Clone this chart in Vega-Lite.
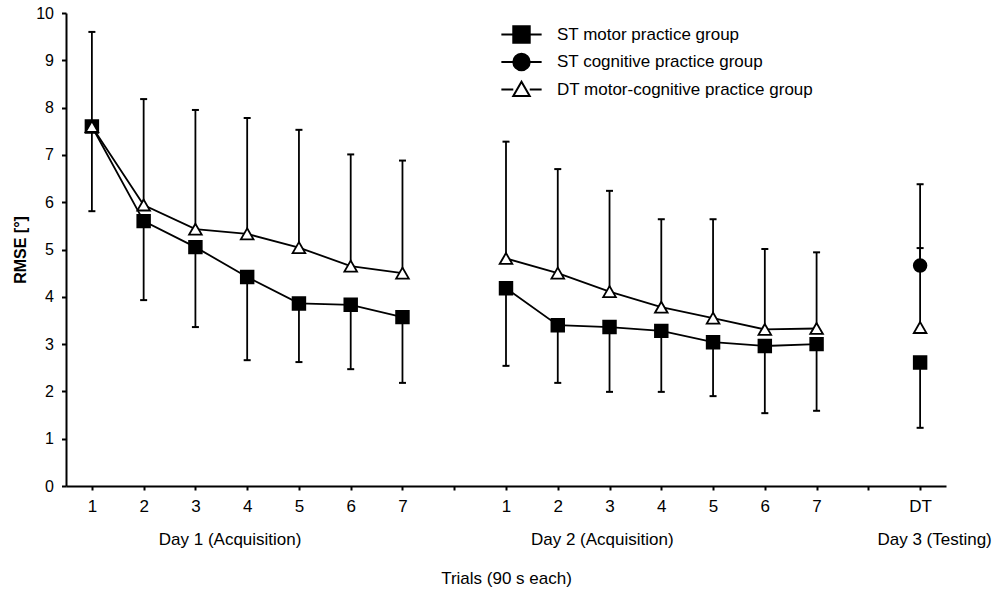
{
  "$schema": "https://vega.github.io/schema/vega-lite/v6.json",
  "width": 880,
  "height": 473,
  "autosize": {"type": "none"},
  "padding": {"left": 66, "top": 13, "right": 54, "bottom": 113},
  "config": {
    "view": {"stroke": null},
    "font": "Liberation Sans",
    "axis": {
      "grid": false,
      "domainColor": "black",
      "domainWidth": 2,
      "tickColor": "black",
      "tickWidth": 2,
      "labelColor": "black",
      "titleColor": "black",
      "labelFont": "Liberation Sans",
      "titleFont": "Liberation Sans"
    },
    "legend": {
      "orient": "none",
      "legendX": 446,
      "legendY": 12,
      "padding": 0,
      "symbolSize": 270,
      "symbolStrokeWidth": 2,
      "symbolOpacity": 1,
      "labelFont": "Liberation Sans",
      "labelFontSize": 17,
      "labelColor": "black",
      "labelLimit": 500,
      "labelOffset": 26,
      "rowPadding": 2.5
    }
  },
  "datasets": {
    "points": [
      {"group": "ST motor practice group", "day": "1", "pos": 1, "mean": 7.6, "bound": 5.81},
      {"group": "ST motor practice group", "day": "1", "pos": 2, "mean": 5.6, "bound": 3.93},
      {"group": "ST motor practice group", "day": "1", "pos": 3, "mean": 5.05, "bound": 3.36},
      {"group": "ST motor practice group", "day": "1", "pos": 4, "mean": 4.42, "bound": 2.66},
      {"group": "ST motor practice group", "day": "1", "pos": 5, "mean": 3.86, "bound": 2.62},
      {"group": "ST motor practice group", "day": "1", "pos": 6, "mean": 3.83, "bound": 2.47},
      {"group": "ST motor practice group", "day": "1", "pos": 7, "mean": 3.57, "bound": 2.18},
      {"group": "ST motor practice group", "day": "2", "pos": 9, "mean": 4.18, "bound": 2.54},
      {"group": "ST motor practice group", "day": "2", "pos": 10, "mean": 3.4, "bound": 2.18},
      {"group": "ST motor practice group", "day": "2", "pos": 11, "mean": 3.36, "bound": 1.99},
      {"group": "ST motor practice group", "day": "2", "pos": 12, "mean": 3.28, "bound": 1.99},
      {"group": "ST motor practice group", "day": "2", "pos": 13, "mean": 3.04, "bound": 1.9},
      {"group": "ST motor practice group", "day": "2", "pos": 14, "mean": 2.96, "bound": 1.54},
      {"group": "ST motor practice group", "day": "2", "pos": 15, "mean": 3.0, "bound": 1.59},
      {"group": "ST motor practice group", "day": "3", "pos": 17, "mean": 2.61, "bound": 1.23},
      {"group": "ST cognitive practice group", "day": "3", "pos": 17, "mean": 4.66, "bound": 6.38},
      {"group": "DT motor-cognitive practice group", "day": "1", "pos": 1, "mean": 7.6, "bound": 9.6},
      {"group": "DT motor-cognitive practice group", "day": "1", "pos": 2, "mean": 5.94, "bound": 8.18},
      {"group": "DT motor-cognitive practice group", "day": "1", "pos": 3, "mean": 5.43, "bound": 7.95},
      {"group": "DT motor-cognitive practice group", "day": "1", "pos": 4, "mean": 5.33, "bound": 7.78},
      {"group": "DT motor-cognitive practice group", "day": "1", "pos": 5, "mean": 5.04, "bound": 7.53},
      {"group": "DT motor-cognitive practice group", "day": "1", "pos": 6, "mean": 4.65, "bound": 7.01},
      {"group": "DT motor-cognitive practice group", "day": "1", "pos": 7, "mean": 4.5, "bound": 6.88},
      {"group": "DT motor-cognitive practice group", "day": "2", "pos": 9, "mean": 4.81, "bound": 7.28},
      {"group": "DT motor-cognitive practice group", "day": "2", "pos": 10, "mean": 4.5, "bound": 6.7},
      {"group": "DT motor-cognitive practice group", "day": "2", "pos": 11, "mean": 4.11, "bound": 6.24},
      {"group": "DT motor-cognitive practice group", "day": "2", "pos": 12, "mean": 3.78, "bound": 5.64},
      {"group": "DT motor-cognitive practice group", "day": "2", "pos": 13, "mean": 3.55, "bound": 5.64},
      {"group": "DT motor-cognitive practice group", "day": "2", "pos": 14, "mean": 3.31, "bound": 5.01},
      {"group": "DT motor-cognitive practice group", "day": "2", "pos": 15, "mean": 3.33, "bound": 4.94},
      {"group": "DT motor-cognitive practice group", "day": "3", "pos": 17, "mean": 3.35, "bound": 5.03}
    ],
    "days": [
      {"label": "Day 1 (Acquisition)", "pos": 3.67},
      {"label": "Day 2 (Acquisition)", "pos": 10.86},
      {"label": "Day 3 (Testing)", "pos": 17.28}
    ]
  },
  "resolve": {"scale": {"shape": "independent", "fill": "independent", "stroke": "independent"}},
  "layer": [
    {
      "data": {"name": "points"},
      "mark": {"type": "rule", "color": "black", "strokeWidth": 1.8},
      "encoding": {
        "x": {
          "field": "pos",
          "type": "quantitative",
          "scale": {"domain": [0.5, 17.5], "nice": false, "zero": false},
          "axis": {
            "values": [1, 2, 3, 4, 5, 6, 7, 8, 9, 10, 11, 12, 13, 14, 15, 16, 17],
            "labelExpr": "datum.value == 17 ? 'DT' : (datum.value == 8 || datum.value == 16) ? '' : datum.value > 8 ? format(datum.value - 8, 'd') : format(datum.value, 'd')",
            "labelFontSize": 17,
            "labelFlush": false,
            "labelOverlap": false,
            "tickSize": 4,
            "labelPadding": 8,
            "title": "Trials (90 s each)",
            "titleFontSize": 17,
            "titleFontWeight": "normal",
            "titlePadding": 56
          }
        },
        "y": {
          "field": "mean",
          "type": "quantitative",
          "scale": {"domain": [0, 10], "nice": false},
          "axis": {
            "values": [0, 1, 2, 3, 4, 5, 6, 7, 8, 9, 10],
            "labelFontSize": 16,
            "tickSize": 4.5,
            "labelPadding": 8,
            "title": "RMSE [°]",
            "titleFontSize": 16,
            "titleFontWeight": "bold",
            "titlePadding": 7
          }
        },
        "y2": {"field": "bound"}
      }
    },
    {
      "data": {"name": "points"},
      "mark": {"type": "point", "shape": "stroke", "size": 49, "stroke": "black", "strokeWidth": 2, "opacity": 1},
      "encoding": {
        "x": {"field": "pos", "type": "quantitative"},
        "y": {"field": "bound", "type": "quantitative"}
      }
    },
    {
      "data": {"name": "points"},
      "mark": {"type": "line", "color": "black", "strokeWidth": 1.8},
      "encoding": {
        "x": {"field": "pos", "type": "quantitative"},
        "y": {"field": "mean", "type": "quantitative"},
        "detail": [{"field": "group"}, {"field": "day"}],
        "order": {"field": "pos"}
      }
    },
    {
      "data": {"name": "points"},
      "mark": {"type": "point", "size": 160, "stroke": "black", "strokeWidth": 1.8, "opacity": 1, "fillOpacity": 1},
      "encoding": {
        "x": {"field": "pos", "type": "quantitative"},
        "y": {"field": "mean", "type": "quantitative"},
        "shape": {
          "field": "group",
          "type": "nominal",
          "scale": {
            "domain": ["ST motor practice group", "ST cognitive practice group", "DT motor-cognitive practice group"],
            "range": ["square", "circle", "triangle-up"]
          },
          "legend": null
        },
        "fill": {
          "field": "group",
          "type": "nominal",
          "scale": {
            "domain": ["ST motor practice group", "ST cognitive practice group", "DT motor-cognitive practice group"],
            "range": ["black", "black", "white"]
          },
          "legend": null
        }
      }
    },
    {
      "data": {"name": "points"},
      "transform": [{"filter": "false"}],
      "mark": {"type": "point", "strokeWidth": 2, "opacity": 1, "fillOpacity": 1},
      "encoding": {
        "x": {"field": "pos", "type": "quantitative"},
        "y": {"field": "mean", "type": "quantitative"},
        "shape": {
          "field": "group",
          "type": "nominal",
          "scale": {
            "domain": ["ST motor practice group", "ST cognitive practice group", "DT motor-cognitive practice group"],
            "range": [
              "M-2.45,0H-1M-1,-1H1V1H-1ZM1,0H2.45",
              "M-2.45,0H-1M-1,0A1,1,0,1,1,1,0A1,1,0,1,1,-1,0ZM1,0H2.45",
              "M-2.45,0H-1M0,-0.95L-1,0.8L1,0.8ZM1,0H2.45"
            ]
          },
          "legend": {"title": null}
        },
        "fill": {
          "field": "group",
          "type": "nominal",
          "scale": {
            "domain": ["ST motor practice group", "ST cognitive practice group", "DT motor-cognitive practice group"],
            "range": ["black", "black", "white"]
          },
          "legend": {"title": null}
        },
        "stroke": {
          "field": "group",
          "type": "nominal",
          "scale": {
            "domain": ["ST motor practice group", "ST cognitive practice group", "DT motor-cognitive practice group"],
            "range": ["black", "black", "black"]
          },
          "legend": {"title": null}
        }
      }
    },
    {
      "data": {"name": "days"},
      "mark": {"type": "text", "fontSize": 17, "color": "black", "align": "center", "baseline": "middle", "font": "Liberation Sans"},
      "encoding": {
        "x": {"field": "pos", "type": "quantitative"},
        "y": {"datum": -1.14, "type": "quantitative"},
        "text": {"field": "label"}
      }
    }
  ]
}
